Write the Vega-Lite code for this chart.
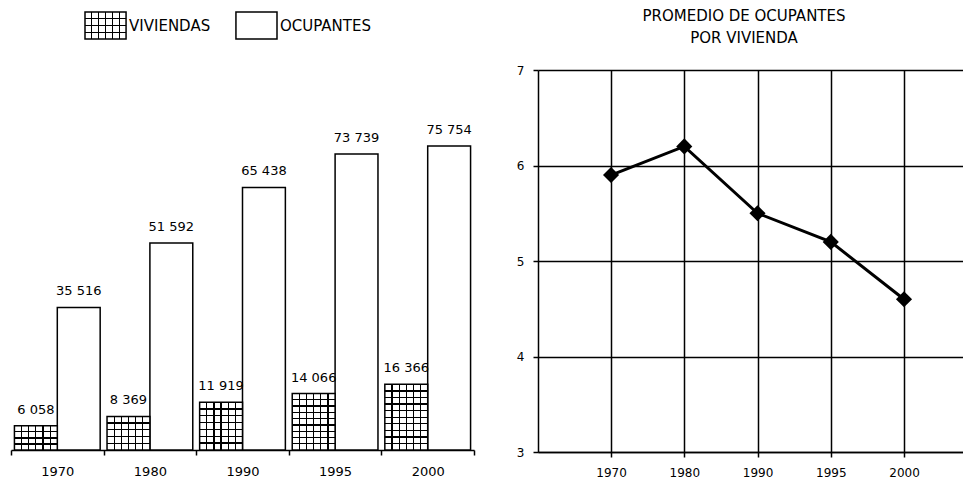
{
  "$schema": "https://vega.github.io/schema/vega-lite/v6.json",
  "background": "white",
  "padding": {"left": 10, "top": 9, "right": 0, "bottom": 0},
  "config": {
    "font": "DejaVu Sans",
    "view": {"stroke": null},
    "locale": {"number": {"decimal": ",", "thousands": " ", "grouping": [3], "currency": ["$", ""]}},
    "axis": {"labelColor": "black", "domainColor": "black", "tickColor": "black", "gridColor": "black", "gridOpacity": 1, "domainWidth": 1.5, "tickWidth": 1.5, "gridWidth": 1.5, "labelFontSize": 12}
  },
  "datasets": {
    "viv": [
      {"anio": "1970", "serie": "VIVIENDAS", "valor": 6058},
      {"anio": "1970", "serie": "OCUPANTES", "valor": 35516},
      {"anio": "1980", "serie": "VIVIENDAS", "valor": 8369},
      {"anio": "1980", "serie": "OCUPANTES", "valor": 51592},
      {"anio": "1990", "serie": "VIVIENDAS", "valor": 11919},
      {"anio": "1990", "serie": "OCUPANTES", "valor": 65438},
      {"anio": "1995", "serie": "VIVIENDAS", "valor": 14066},
      {"anio": "1995", "serie": "OCUPANTES", "valor": 73739},
      {"anio": "2000", "serie": "VIVIENDAS", "valor": 16366},
      {"anio": "2000", "serie": "OCUPANTES", "valor": 75754}
    ],
    "prom": [
      {"anio": "1970", "promedio": 5.9},
      {"anio": "1980", "promedio": 6.2},
      {"anio": "1990", "promedio": 5.5},
      {"anio": "1995", "promedio": 5.2},
      {"anio": "2000", "promedio": 4.6}
    ]
  },
  "bounds": "flush",
  "spacing": 31,
  "vconcat": [
    {
      "width": 463,
      "height": 27,
      "data": {"name": "viv"},
      "transform": [{"filter": "datum.anio === '1970'"}],
      "encoding": {
        "x": {"field": "serie", "type": "nominal", "sort": ["VIVIENDAS", "OCUPANTES"], "scale": {"range": [74, 266], "paddingInner": 0.728, "paddingOuter": 0}, "axis": null}
      },
      "layer": [
        {
          "transform": [{"filter": "datum.serie === 'OCUPANTES'"}],
          "mark": {"type": "bar", "stroke": "black", "strokeWidth": 1.5, "fill": "white"}
        },
        {
          "transform": [{"filter": "datum.serie === 'VIVIENDAS'"}],
          "mark": {"type": "bar", "stroke": "black", "strokeWidth": 1.5},
          "encoding": {"fill": {"value": {"gradient": "linear", "x1": 0, "y1": 0, "x2": 1, "y2": 0, "stops": [
            {"offset": 0, "color": "white"},
            {"offset": 0.152, "color": "white"}, {"offset": 0.152, "color": "black"}, {"offset": 0.181, "color": "black"}, {"offset": 0.181, "color": "white"},
            {"offset": 0.319, "color": "white"}, {"offset": 0.319, "color": "black"}, {"offset": 0.348, "color": "black"}, {"offset": 0.348, "color": "white"},
            {"offset": 0.486, "color": "white"}, {"offset": 0.486, "color": "black"}, {"offset": 0.514, "color": "black"}, {"offset": 0.514, "color": "white"},
            {"offset": 1, "color": "white"}]}}}
        },
        {
          "transform": [{"filter": "datum.serie === 'VIVIENDAS'"}],
          "mark": {"type": "bar"},
          "encoding": {"fill": {"value": {"gradient": "linear", "x1": 0, "y1": 0, "x2": 1, "y2": 0, "stops": [
            {"offset": 0, "color": "rgba(0,0,0,0)"},
            {"offset": 0.652, "color": "rgba(0,0,0,0)"}, {"offset": 0.652, "color": "black"}, {"offset": 0.681, "color": "black"}, {"offset": 0.681, "color": "rgba(0,0,0,0)"},
            {"offset": 0.819, "color": "rgba(0,0,0,0)"}, {"offset": 0.819, "color": "black"}, {"offset": 0.848, "color": "black"}, {"offset": 0.848, "color": "rgba(0,0,0,0)"},
            {"offset": 1, "color": "rgba(0,0,0,0)"}]}}}
        },
        {
          "transform": [{"filter": "datum.serie === 'VIVIENDAS'"}],
          "mark": {"type": "bar"},
          "encoding": {"fill": {"value": {"gradient": "linear", "x1": 0, "y1": 0, "x2": 0, "y2": 1, "stops": [
            {"offset": 0, "color": "rgba(0,0,0,0)"},
            {"offset": 0.226, "color": "rgba(0,0,0,0)"}, {"offset": 0.226, "color": "black"}, {"offset": 0.274, "color": "black"}, {"offset": 0.274, "color": "rgba(0,0,0,0)"},
            {"offset": 0.476, "color": "rgba(0,0,0,0)"}, {"offset": 0.476, "color": "black"}, {"offset": 0.524, "color": "black"}, {"offset": 0.524, "color": "rgba(0,0,0,0)"},
            {"offset": 0.726, "color": "rgba(0,0,0,0)"}, {"offset": 0.726, "color": "black"}, {"offset": 0.774, "color": "black"}, {"offset": 0.774, "color": "rgba(0,0,0,0)"},
            {"offset": 1, "color": "rgba(0,0,0,0)"}]}}}
        },
        {
          "mark": {"type": "text", "align": "left", "dx": 3, "fontSize": 15, "color": "black"},
          "encoding": {
            "x": {"field": "serie", "type": "nominal", "sort": ["VIVIENDAS", "OCUPANTES"], "bandPosition": 1},
            "text": {"field": "serie"}
          }
        }
      ]
    },
    {
      "bounds": "flush",
      "spacing": 64,
      "hconcat": [
        {
          "width": 463,
          "height": 380,
          "data": {"name": "viv"},
          "encoding": {
            "x": {"field": "anio", "type": "nominal", "scale": {"paddingInner": 0, "paddingOuter": 0},
              "axis": {"title": null, "labelAngle": 0, "tickBand": "extent", "tickSize": 5, "labelFontSize": 13, "labelPadding": 10}},
            "xOffset": {"field": "serie", "type": "nominal", "sort": ["VIVIENDAS", "OCUPANTES"], "scale": {"paddingInner": 0, "paddingOuter": 0.08}},
            "y": {"field": "valor", "type": "quantitative", "scale": {"domain": [0, 94692], "nice": false}, "axis": null}
          },
          "layer": [
            {
              "transform": [{"filter": "datum.serie === 'OCUPANTES'"}],
              "mark": {"type": "bar", "stroke": "black", "strokeWidth": 1.5, "fill": "white"}
            },
            {
              "transform": [{"filter": "datum.serie === 'VIVIENDAS'"}],
              "mark": {"type": "bar", "stroke": "black", "strokeWidth": 1.5},
              "encoding": {"fill": {"value": {"gradient": "linear", "x1": 0, "y1": 0, "x2": 1, "y2": 0, "stops": [
                {"offset": 0, "color": "white"},
                {"offset": 0.152, "color": "white"}, {"offset": 0.152, "color": "black"}, {"offset": 0.181, "color": "black"}, {"offset": 0.181, "color": "white"},
                {"offset": 0.319, "color": "white"}, {"offset": 0.319, "color": "black"}, {"offset": 0.348, "color": "black"}, {"offset": 0.348, "color": "white"},
                {"offset": 0.486, "color": "white"}, {"offset": 0.486, "color": "black"}, {"offset": 0.514, "color": "black"}, {"offset": 0.514, "color": "white"},
                {"offset": 1, "color": "white"}]}}}
            },
            {
              "transform": [{"filter": "datum.serie === 'VIVIENDAS'"}],
              "mark": {"type": "bar"},
              "encoding": {"fill": {"value": {"gradient": "linear", "x1": 0, "y1": 0, "x2": 1, "y2": 0, "stops": [
                {"offset": 0, "color": "rgba(0,0,0,0)"},
                {"offset": 0.652, "color": "rgba(0,0,0,0)"}, {"offset": 0.652, "color": "black"}, {"offset": 0.681, "color": "black"}, {"offset": 0.681, "color": "rgba(0,0,0,0)"},
                {"offset": 0.819, "color": "rgba(0,0,0,0)"}, {"offset": 0.819, "color": "black"}, {"offset": 0.848, "color": "black"}, {"offset": 0.848, "color": "rgba(0,0,0,0)"},
                {"offset": 1, "color": "rgba(0,0,0,0)"}]}}}
            },
            {
              "transform": [{"filter": "datum.serie === 'VIVIENDAS' && datum.anio === '1970'"}],
              "mark": {"type": "bar"},
              "encoding": {"fill": {"value": {"gradient": "linear", "x1": 0, "y1": 0, "x2": 0, "y2": 1, "stops": [
                {"offset": 0, "color": "rgba(0,0,0,0)"},
                {"offset": 0.223, "color": "rgba(0,0,0,0)"}, {"offset": 0.223, "color": "black"}, {"offset": 0.277, "color": "black"}, {"offset": 0.277, "color": "rgba(0,0,0,0)"},
                {"offset": 0.473, "color": "rgba(0,0,0,0)"}, {"offset": 0.473, "color": "black"}, {"offset": 0.527, "color": "black"}, {"offset": 0.527, "color": "rgba(0,0,0,0)"},
                {"offset": 0.723, "color": "rgba(0,0,0,0)"}, {"offset": 0.723, "color": "black"}, {"offset": 0.777, "color": "black"}, {"offset": 0.777, "color": "rgba(0,0,0,0)"},
                {"offset": 1, "color": "rgba(0,0,0,0)"}]}}}
            },
            {
              "transform": [{"filter": "datum.serie === 'VIVIENDAS' && datum.anio === '1980'"}],
              "mark": {"type": "bar"},
              "encoding": {"fill": {"value": {"gradient": "linear", "x1": 0, "y1": 0, "x2": 0, "y2": 1, "stops": [
                {"offset": 0, "color": "rgba(0,0,0,0)"},
                {"offset": 0.181, "color": "rgba(0,0,0,0)"}, {"offset": 0.181, "color": "black"}, {"offset": 0.219, "color": "black"}, {"offset": 0.219, "color": "rgba(0,0,0,0)"},
                {"offset": 0.381, "color": "rgba(0,0,0,0)"}, {"offset": 0.381, "color": "black"}, {"offset": 0.419, "color": "black"}, {"offset": 0.419, "color": "rgba(0,0,0,0)"},
                {"offset": 0.581, "color": "rgba(0,0,0,0)"}, {"offset": 0.581, "color": "black"}, {"offset": 0.619, "color": "black"}, {"offset": 0.619, "color": "rgba(0,0,0,0)"},
                {"offset": 1, "color": "rgba(0,0,0,0)"}]}}}
            },
            {
              "transform": [{"filter": "datum.serie === 'VIVIENDAS' && datum.anio === '1980'"}],
              "mark": {"type": "bar"},
              "encoding": {"fill": {"value": {"gradient": "linear", "x1": 0, "y1": 0, "x2": 0, "y2": 1, "stops": [
                {"offset": 0, "color": "rgba(0,0,0,0)"},
                {"offset": 0.781, "color": "rgba(0,0,0,0)"}, {"offset": 0.781, "color": "black"}, {"offset": 0.819, "color": "black"}, {"offset": 0.819, "color": "rgba(0,0,0,0)"},
                {"offset": 1, "color": "rgba(0,0,0,0)"}]}}}
            },
            {
              "transform": [{"filter": "datum.serie === 'VIVIENDAS' && datum.anio === '1990'"}],
              "mark": {"type": "bar"},
              "encoding": {"fill": {"value": {"gradient": "linear", "x1": 0, "y1": 0, "x2": 0, "y2": 1, "stops": [
                {"offset": 0, "color": "rgba(0,0,0,0)"},
                {"offset": 0.129, "color": "rgba(0,0,0,0)"}, {"offset": 0.129, "color": "black"}, {"offset": 0.157, "color": "black"}, {"offset": 0.157, "color": "rgba(0,0,0,0)"},
                {"offset": 0.272, "color": "rgba(0,0,0,0)"}, {"offset": 0.272, "color": "black"}, {"offset": 0.299, "color": "black"}, {"offset": 0.299, "color": "rgba(0,0,0,0)"},
                {"offset": 0.415, "color": "rgba(0,0,0,0)"}, {"offset": 0.415, "color": "black"}, {"offset": 0.442, "color": "black"}, {"offset": 0.442, "color": "rgba(0,0,0,0)"},
                {"offset": 1, "color": "rgba(0,0,0,0)"}]}}}
            },
            {
              "transform": [{"filter": "datum.serie === 'VIVIENDAS' && datum.anio === '1990'"}],
              "mark": {"type": "bar"},
              "encoding": {"fill": {"value": {"gradient": "linear", "x1": 0, "y1": 0, "x2": 0, "y2": 1, "stops": [
                {"offset": 0, "color": "rgba(0,0,0,0)"},
                {"offset": 0.558, "color": "rgba(0,0,0,0)"}, {"offset": 0.558, "color": "black"}, {"offset": 0.585, "color": "black"}, {"offset": 0.585, "color": "rgba(0,0,0,0)"},
                {"offset": 0.701, "color": "rgba(0,0,0,0)"}, {"offset": 0.701, "color": "black"}, {"offset": 0.728, "color": "black"}, {"offset": 0.728, "color": "rgba(0,0,0,0)"},
                {"offset": 0.843, "color": "rgba(0,0,0,0)"}, {"offset": 0.843, "color": "black"}, {"offset": 0.871, "color": "black"}, {"offset": 0.871, "color": "rgba(0,0,0,0)"},
                {"offset": 1, "color": "rgba(0,0,0,0)"}]}}}
            },
            {
              "transform": [{"filter": "datum.serie === 'VIVIENDAS' && datum.anio === '1995'"}],
              "mark": {"type": "bar"},
              "encoding": {"fill": {"value": {"gradient": "linear", "x1": 0, "y1": 0, "x2": 0, "y2": 1, "stops": [
                {"offset": 0, "color": "rgba(0,0,0,0)"},
                {"offset": 0.100, "color": "rgba(0,0,0,0)"}, {"offset": 0.100, "color": "black"}, {"offset": 0.123, "color": "black"}, {"offset": 0.123, "color": "rgba(0,0,0,0)"},
                {"offset": 0.211, "color": "rgba(0,0,0,0)"}, {"offset": 0.211, "color": "black"}, {"offset": 0.234, "color": "black"}, {"offset": 0.234, "color": "rgba(0,0,0,0)"},
                {"offset": 0.322, "color": "rgba(0,0,0,0)"}, {"offset": 0.322, "color": "black"}, {"offset": 0.345, "color": "black"}, {"offset": 0.345, "color": "rgba(0,0,0,0)"},
                {"offset": 1, "color": "rgba(0,0,0,0)"}]}}}
            },
            {
              "transform": [{"filter": "datum.serie === 'VIVIENDAS' && datum.anio === '1995'"}],
              "mark": {"type": "bar"},
              "encoding": {"fill": {"value": {"gradient": "linear", "x1": 0, "y1": 0, "x2": 0, "y2": 1, "stops": [
                {"offset": 0, "color": "rgba(0,0,0,0)"},
                {"offset": 0.433, "color": "rgba(0,0,0,0)"}, {"offset": 0.433, "color": "black"}, {"offset": 0.456, "color": "black"}, {"offset": 0.456, "color": "rgba(0,0,0,0)"},
                {"offset": 0.544, "color": "rgba(0,0,0,0)"}, {"offset": 0.544, "color": "black"}, {"offset": 0.567, "color": "black"}, {"offset": 0.567, "color": "rgba(0,0,0,0)"},
                {"offset": 0.655, "color": "rgba(0,0,0,0)"}, {"offset": 0.655, "color": "black"}, {"offset": 0.678, "color": "black"}, {"offset": 0.678, "color": "rgba(0,0,0,0)"},
                {"offset": 1, "color": "rgba(0,0,0,0)"}]}}}
            },
            {
              "transform": [{"filter": "datum.serie === 'VIVIENDAS' && datum.anio === '1995'"}],
              "mark": {"type": "bar"},
              "encoding": {"fill": {"value": {"gradient": "linear", "x1": 0, "y1": 0, "x2": 0, "y2": 1, "stops": [
                {"offset": 0, "color": "rgba(0,0,0,0)"},
                {"offset": 0.766, "color": "rgba(0,0,0,0)"}, {"offset": 0.766, "color": "black"}, {"offset": 0.789, "color": "black"}, {"offset": 0.789, "color": "rgba(0,0,0,0)"},
                {"offset": 0.877, "color": "rgba(0,0,0,0)"}, {"offset": 0.877, "color": "black"}, {"offset": 0.900, "color": "black"}, {"offset": 0.900, "color": "rgba(0,0,0,0)"},
                {"offset": 1, "color": "rgba(0,0,0,0)"}]}}}
            },
            {
              "transform": [{"filter": "datum.serie === 'VIVIENDAS' && datum.anio === '2000'"}],
              "mark": {"type": "bar"},
              "encoding": {"fill": {"value": {"gradient": "linear", "x1": 0, "y1": 0, "x2": 0, "y2": 1, "stops": [
                {"offset": 0, "color": "rgba(0,0,0,0)"},
                {"offset": 0.090, "color": "rgba(0,0,0,0)"}, {"offset": 0.090, "color": "black"}, {"offset": 0.110, "color": "black"}, {"offset": 0.110, "color": "rgba(0,0,0,0)"},
                {"offset": 0.190, "color": "rgba(0,0,0,0)"}, {"offset": 0.190, "color": "black"}, {"offset": 0.210, "color": "black"}, {"offset": 0.210, "color": "rgba(0,0,0,0)"},
                {"offset": 0.290, "color": "rgba(0,0,0,0)"}, {"offset": 0.290, "color": "black"}, {"offset": 0.310, "color": "black"}, {"offset": 0.310, "color": "rgba(0,0,0,0)"},
                {"offset": 1, "color": "rgba(0,0,0,0)"}]}}}
            },
            {
              "transform": [{"filter": "datum.serie === 'VIVIENDAS' && datum.anio === '2000'"}],
              "mark": {"type": "bar"},
              "encoding": {"fill": {"value": {"gradient": "linear", "x1": 0, "y1": 0, "x2": 0, "y2": 1, "stops": [
                {"offset": 0, "color": "rgba(0,0,0,0)"},
                {"offset": 0.390, "color": "rgba(0,0,0,0)"}, {"offset": 0.390, "color": "black"}, {"offset": 0.410, "color": "black"}, {"offset": 0.410, "color": "rgba(0,0,0,0)"},
                {"offset": 0.490, "color": "rgba(0,0,0,0)"}, {"offset": 0.490, "color": "black"}, {"offset": 0.510, "color": "black"}, {"offset": 0.510, "color": "rgba(0,0,0,0)"},
                {"offset": 0.590, "color": "rgba(0,0,0,0)"}, {"offset": 0.590, "color": "black"}, {"offset": 0.610, "color": "black"}, {"offset": 0.610, "color": "rgba(0,0,0,0)"},
                {"offset": 1, "color": "rgba(0,0,0,0)"}]}}}
            },
            {
              "transform": [{"filter": "datum.serie === 'VIVIENDAS' && datum.anio === '2000'"}],
              "mark": {"type": "bar"},
              "encoding": {"fill": {"value": {"gradient": "linear", "x1": 0, "y1": 0, "x2": 0, "y2": 1, "stops": [
                {"offset": 0, "color": "rgba(0,0,0,0)"},
                {"offset": 0.690, "color": "rgba(0,0,0,0)"}, {"offset": 0.690, "color": "black"}, {"offset": 0.710, "color": "black"}, {"offset": 0.710, "color": "rgba(0,0,0,0)"},
                {"offset": 0.790, "color": "rgba(0,0,0,0)"}, {"offset": 0.790, "color": "black"}, {"offset": 0.810, "color": "black"}, {"offset": 0.810, "color": "rgba(0,0,0,0)"},
                {"offset": 0.890, "color": "rgba(0,0,0,0)"}, {"offset": 0.890, "color": "black"}, {"offset": 0.910, "color": "black"}, {"offset": 0.910, "color": "rgba(0,0,0,0)"},
                {"offset": 1, "color": "rgba(0,0,0,0)"}]}}}
            },
            {
              "mark": {"type": "text", "dy": -12, "baseline": "alphabetic", "fontSize": 13, "color": "black"},
              "encoding": {"text": {"field": "valor", "type": "quantitative", "format": ",d"}}
            }
          ]
        },
        {
          "width": 426,
          "height": 382,
          "data": {"name": "prom"},
          "title": {"text": ["PROMEDIO DE OCUPANTES", "POR VIVIENDA"], "fontSize": 15, "fontWeight": "normal", "color": "black", "lineHeight": 22, "offset": 18, "dx": -7, "anchor": "middle"},
          "encoding": {
            "x": {"field": "anio", "type": "ordinal", "scale": {"type": "point", "padding": 0.908, "align": 0.549},
              "axis": {"title": null, "labelAngle": 0, "grid": true, "tickSize": 5, "labelFontSize": 12, "labelPadding": 10}},
            "y": {"field": "promedio", "type": "quantitative", "scale": {"domain": [3, 7], "nice": false, "zero": false},
              "axis": {"title": null, "values": [3, 4, 5, 6, 7], "grid": true, "tickSize": 5, "labelFontSize": 12, "labelPadding": 9, "format": "d"}}
          },
          "layer": [
            {"mark": {"type": "line", "color": "black", "strokeWidth": 3}},
            {"mark": {"type": "point", "shape": "diamond", "filled": true, "color": "black", "size": 260, "opacity": 1}}
          ]
        }
      ]
    }
  ]
}
